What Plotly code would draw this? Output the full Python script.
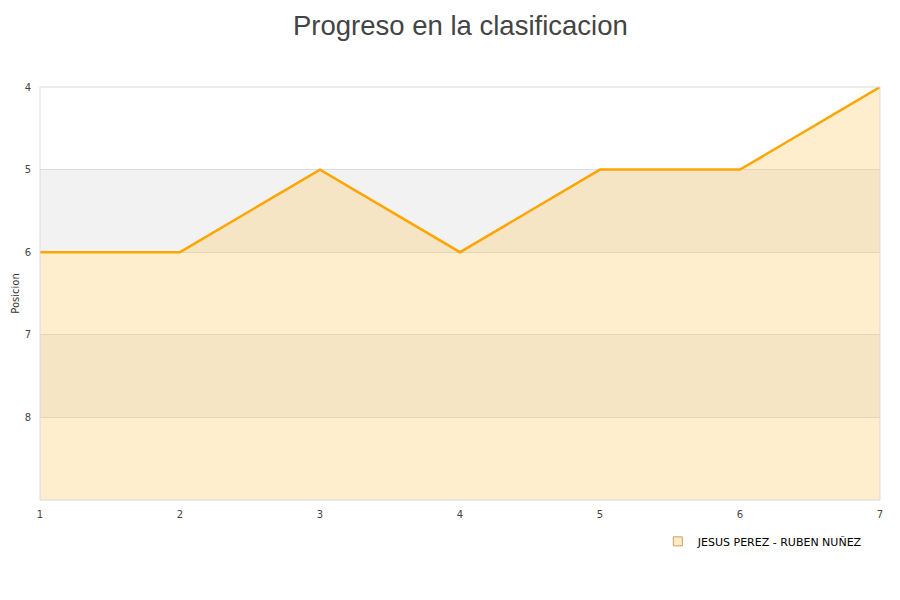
import plotly.graph_objects as go

jornadas = [1, 2, 3, 4, 5, 6, 7]
posiciones = [6, 6, 5, 6, 5, 5, 4]
serie = "JESUS PEREZ - RUBEN NUÑEZ"
titulo = "Progreso en la clasificacion"
y_ticks = [4, 5, 6, 7, 8]
y_min, y_max = 4, 9

fig = go.Figure()
# baseline for fill
fig.add_trace(go.Scatter(x=jornadas, y=[y_max] * len(jornadas), mode="lines",
                         line=dict(width=0), showlegend=False, hoverinfo="skip"))
fig.add_trace(go.Scatter(x=jornadas, y=posiciones, mode="lines", fill="tonexty",
                         fillcolor="rgba(255,200,90,0.3)",
                         line=dict(color="#FFA500", width=2.5), showlegend=False,
                         name=serie))
fig.add_trace(go.Scatter(x=[None], y=[None], mode="markers", name=serie,
                         marker=dict(symbol="square", size=9, color="#FDEBC8",
                                     line=dict(color="#C8A060", width=1))))

shapes = []
for lo in range(y_min, y_max):
    if lo in (5, 7):
        shapes.append(dict(type="rect", xref="paper", yref="y", x0=0, x1=1, y0=lo, y1=lo + 1,
                           fillcolor="#F2F2F2", line=dict(width=0), layer="below"))
shapes.append(dict(type="rect", xref="paper", yref="paper", x0=0, x1=1, y0=0, y1=1,
                   line=dict(color="#D9D9D9", width=1), fillcolor="rgba(0,0,0,0)"))

fig.update_layout(
    width=900, height=600,
    paper_bgcolor="white", plot_bgcolor="white",
    margin=dict(l=32, r=28, t=79, b=108),
    font=dict(family="DejaVu Sans", size=10, color="#444444"),
    shapes=shapes,
    annotations=[dict(text=titulo, xref="paper", yref="paper", x=0.5, y=1.1477,
                      xanchor="center", yanchor="middle", showarrow=False,
                      font=dict(family="Liberation Sans", size=27.5, color="#444444"))],
    xaxis=dict(range=[1, 7], tickvals=jornadas, showgrid=False, zeroline=False,
               ticks="", showline=False, ticklabelstandoff=7,
               tickfont=dict(size=10, color="#444444")),
    yaxis=dict(range=[y_max, y_min], tickvals=y_ticks, showgrid=True, gridcolor="#DDDDDD",
               zeroline=False, ticks="", showline=False, ticklabelstandoff=8,
               title=dict(text="Posicion", font=dict(size=10, color="#333333"), standoff=3),
               tickfont=dict(size=10, color="#444444"), automargin=False),
    legend=dict(x=0.7355, y=-0.065, xanchor="left", yanchor="top", bgcolor="rgba(0,0,0,0)",
                font=dict(family="DejaVu Sans", size=11, color="#000000")),
    showlegend=True,
)
fig.write_html("out.html")
